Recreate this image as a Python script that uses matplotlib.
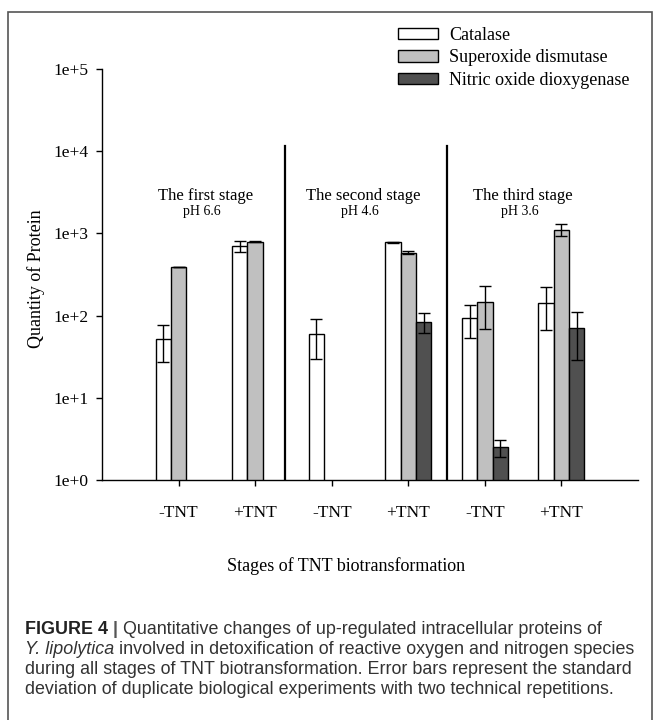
import numpy as np
import matplotlib
matplotlib.use("Agg")
import matplotlib.pyplot as plt
import matplotlib.ticker as ticker
from matplotlib.patches import Rectangle

groups = ["-TNT", "+TNT", "-TNT", "+TNT", "-TNT", "+TNT"]
series = ["Catalase", "Superoxide dismutase", "Nitric oxide dioxygenase"]
catalase = [52, 700, 60, 780, 93, 144]
catalase_sd = [25, 100, 30, 10, 40, 77]
sod = [390, 790, np.nan, 585, 148, 1110]
sod_sd = [5, 15, np.nan, 25, 80, 180]
nod = [np.nan, np.nan, np.nan, 84, 2.5, 70]
nod_sd = [np.nan, np.nan, np.nan, 23, 0.6, 41]
stages = ["The first stage", "The second stage", "The third stage"]
stage_ph = ["pH 6.6", "pH 4.6", "pH 3.6"]

serif = "Liberation Serif"
sans = "Liberation Sans"

fig = plt.figure(figsize=(6.6, 7.2), dpi=100)
ax = fig.add_axes([102 / 660, 1 - 480 / 720, (638 - 102) / 660, (480 - 69) / 720])

x = np.arange(len(groups))
w = 0.2
fills = ["white", "#c0c0c0", "#505050"]
for k, (vals, sds) in enumerate([(catalase, catalase_sd), (sod, sod_sd), (nod, nod_sd)]):
    xs = x + (k - 1) * w
    ax.bar(xs, vals, width=w, color=fills[k], edgecolor="black",
           linewidth=1.0, label=series[k], zorder=2)
    ax.errorbar(xs, vals, yerr=sds, fmt="none", ecolor="black", elinewidth=1.0,
                capsize=4.5, capthick=1.0, zorder=3)

# stage separators
for sx in [1.39, 3.51]:
    ax.plot([sx, sx], [1, 1.15e4], color="black", lw=1.6, zorder=1)

for cx, ttl, ph in zip([0.35, 2.41, 4.49], stages, stage_ph):
    ax.text(cx, 10 ** 3.45, ttl, ha="center", va="center", fontsize=12, family=serif)
    ax.text(cx - 0.04, 10 ** 3.27, ph, ha="center", va="center", fontsize=10, family=serif)

ax.set_yscale("log")
ax.set_ylim(1, 1e5)
ax.set_xlim(-1.0, 6.0)
ax.yaxis.set_major_locator(ticker.LogLocator(base=10, numticks=10))
ax.yaxis.set_minor_locator(ticker.NullLocator())
ax.yaxis.set_major_formatter(ticker.FuncFormatter(lambda v, p: f"1e+{int(round(np.log10(v)))}"))
ax.set_xticks(x)
ax.set_xticklabels(groups)
for lab in ax.get_xticklabels() + ax.get_yticklabels():
    lab.set_family(serif)
    lab.set_fontsize(12.5)
ax.tick_params(axis="x", direction="out", length=4, width=1, pad=14)
ax.tick_params(axis="y", direction="out", length=4, width=1, pad=6)
for s in ["top", "right"]:
    ax.spines[s].set_visible(False)
ax.spines["left"].set_linewidth(1.0)
ax.spines["bottom"].set_linewidth(1.0)

fig.text(36 / 660, 1 - 279 / 720, "Quantity of Protein", rotation=90,
         ha="center", va="center", fontsize=13, family=serif)
fig.text(346 / 660, 1 - 566 / 720, "Stages of TNT biotransformation",
         ha="center", va="center", fontsize=13, family=serif)

ax.legend(loc="upper left", bbox_to_anchor=(398 / 660, 1 - 27 / 720),
          bbox_transform=fig.transFigure, frameon=False, borderpad=0,
          borderaxespad=0, handlelength=2.2, handleheight=0.62,
          handletextpad=0.65, labelspacing=0.3,
          prop={"family": serif, "size": 13})

# outer frame
fig.patches.append(Rectangle((8 / 660, -0.05), (652 - 8) / 660, 1.05 - 12 / 720,
                             transform=fig.transFigure, fill=False,
                             edgecolor="#555555", lw=1.2))

# caption
cap_color = "#333333"
renderer = fig.canvas.get_renderer()

# fit caption size so the longest line reaches the right margin (~635 px)
probe = fig.text(0, 0, "Y. lipolytica involved in detoxification of reactive oxygen and nitrogen species",
                 fontsize=10, family=sans)
cap_size = 10 * (635 - 25) / probe.get_window_extent(renderer).width
probe.remove()


def put_line(y, parts):
    xpos = 25 / 660
    for txt, style, weight, col in parts:
        t = fig.text(xpos, y, txt, ha="left", va="center", fontsize=cap_size,
                     family=sans, style=style, weight=weight, color=col)
        bb = t.get_window_extent(renderer)
        xpos = bb.x1 / fig.bbox.width


put_line(1 - 630 / 720, [("FIGURE 4 ", "normal", "bold", "#222222"),
                         ("| ", "normal", "bold", "#555555"),
                         ("Quantitative changes of up-regulated intracellular proteins of",
                          "normal", "normal", cap_color)])
put_line(1 - 650 / 720, [("Y. lipolytica", "italic", "normal", cap_color),
                         (" involved in detoxification of reactive oxygen and nitrogen species",
                          "normal", "normal", cap_color)])
put_line(1 - 670 / 720, [("during all stages of TNT biotransformation. Error bars represent the standard",
                          "normal", "normal", cap_color)])
put_line(1 - 689 / 720, [("deviation of duplicate biological experiments with two technical repetitions.",
                          "normal", "normal", cap_color)])

fig.savefig("out.png", dpi=100)
